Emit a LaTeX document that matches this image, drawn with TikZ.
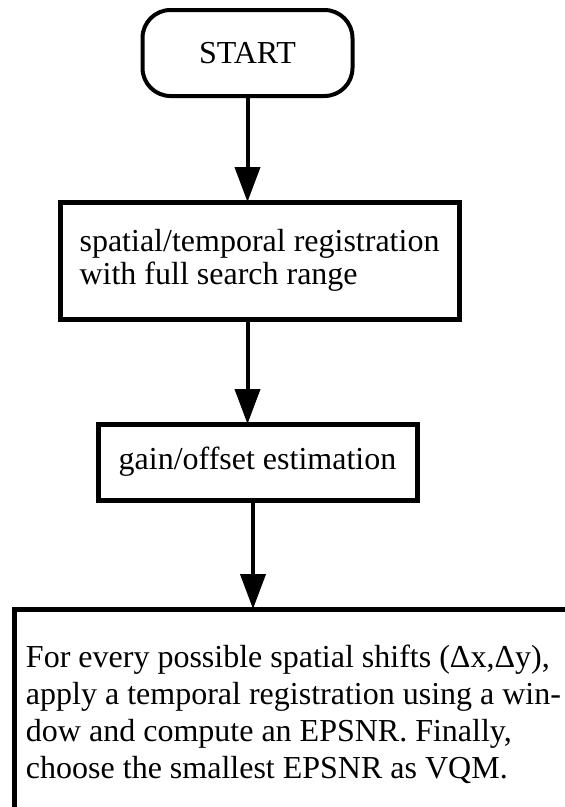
\documentclass[tikz,border=0pt]{standalone}
\usepackage{fontspec}
\setmainfont{Liberation Serif}
\usepackage{tikz}
\usetikzlibrary{arrows.meta, positioning}

\newcommand{\flowfont}{\fontsize{32}{33.5}\selectfont}
\newcommand{\notefont}{\fontsize{32}{37}\selectfont}

\begin{document}
\begin{tikzpicture}[
  x=1pt, y=-1pt,
  terminal/.style={rectangle, rounded corners=28pt, draw, line width=4pt, minimum width=210pt, minimum height=86pt, outer sep=0pt, font=\flowfont},
  process/.style={rectangle, draw, line width=5pt, outer sep=0pt, font=\flowfont},
  arrow/.style={-{Triangle[length=35pt, width=25pt]}, line width=4pt}
]
\useasboundingbox (0,0) rectangle (565,807);
\clip (0,0) rectangle (565,807);

\node[terminal] (start) at (247.5,53) {START};
\node[process, minimum width=399pt, minimum height=117pt, align=left] (reg) at (259.5,260.5) {spatial/temporal registration\\with full search range};
\node[process, minimum width=319pt, minimum height=76pt] (gain) at (257.5,462) {gain/offset estimation};
\node[process, font=\notefont, anchor=north west, align=left, inner xsep=12pt, inner ysep=36pt] (vqm) at (14,609)
  {For every possible spatial shifts (Δx,Δy),\\
   apply a temporal registration using a win-\\
   dow and compute an EPSNR. Finally,\\
   choose the smallest EPSNR as VQM.};

\draw[arrow] (start) -- (start |- reg.north);
\draw[arrow] (reg.south -| start) -- (gain.north -| start);
\draw[arrow] ([xshift=-4.5pt]gain.south) -- ([xshift=-4.5pt]gain.south |- vqm.north);

\end{tikzpicture}
\end{document}
